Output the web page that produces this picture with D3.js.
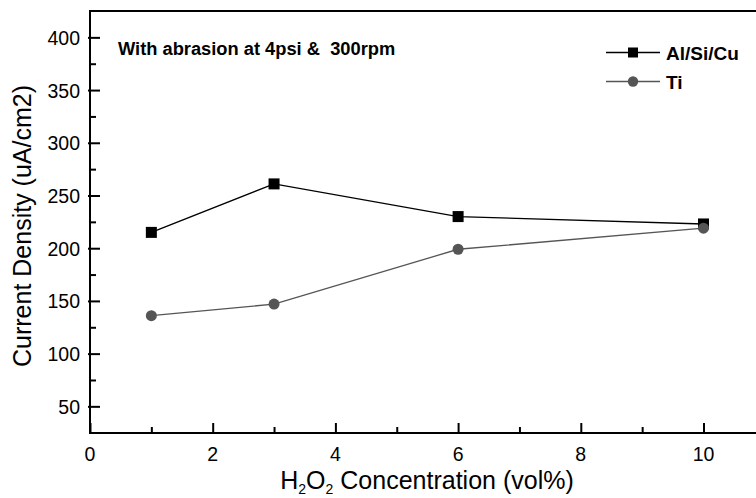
<!DOCTYPE html>
<html>
<head>
<meta charset="utf-8">
<script src="https://cdn.jsdelivr.net/npm/d3@7"></script>
<style>
  body { margin: 0; background: #fff; }
  svg { display: block; overflow: hidden; }
  text { font-family: "Liberation Sans", Arial, sans-serif; fill: #000; }
  .tick-label { font-size: 19.5px; }
  .axis-title { font-size: 25px; }
  .note { font-size: 18.3px; font-weight: bold; }
  .legend-label { font-size: 19px; font-weight: bold; }
</style>
</head>
<body>
<div id="chart"></div>
<script>
// Chart data
const concentrations = [1, 3, 6, 10];
const alSiCuValues = [215, 261, 230, 223];
const tiValues = [136, 147, 199, 219];
const xTickValues = [0, 2, 4, 6, 8, 10];
const xMinorTicks = [1, 3, 5, 7, 9];
const yTickValues = [50, 100, 150, 200, 250, 300, 350, 400];
const yMinorTicks = [75, 125, 175, 225, 275, 325, 375];
const seriesNames = ["Al/Si/Cu", "Ti"];

const width = 756, height = 498;
const margin = { top: 11, left: 90, bottom: 65 };
const plotBottom = height - margin.bottom;

const svg = d3.select("#chart")
    .append("svg")
    .attr("width", width)
    .attr("height", height);

// Scales (right edge of the frame runs past the window)
const xScale = d3.scaleLinear()
    .domain([0, 11])
    .range([margin.left, margin.left + 11 * 61.35]);

const yScale = d3.scaleLinear()
    .domain([25, 425])
    .range([plotBottom - 0.3, margin.top]);

// Top frame line
svg.append("line")
    .attr("x1", margin.left).attr("x2", xScale(11))
    .attr("y1", margin.top).attr("y2", margin.top)
    .attr("stroke", "#000").attr("stroke-width", 2);

// Y axis, ticks pointing inward
const yAxis = svg.append("g")
    .attr("transform", `translate(${margin.left},0)`)
    .call(d3.axisRight(yScale).tickValues(yTickValues).tickSize(10).tickFormat(""));
yAxis.select(".domain").remove();
yAxis.selectAll(".tick line").attr("stroke-width", 2).attr("x1", -2);

svg.append("g")
    .attr("transform", `translate(${margin.left},0)`)
    .call(d3.axisRight(yScale).tickValues(yMinorTicks).tickSize(6).tickFormat(""))
    .call(g => g.select(".domain").remove())
    .selectAll(".tick line").attr("stroke-width", 2);

svg.selectAll(".y-label")
    .data(yTickValues)
    .join("text")
    .attr("class", "tick-label y-label")
    .attr("x", margin.left - 10)
    .attr("y", d => yScale(d) + 7.5)
    .attr("text-anchor", "end")
    .text(d => d);

svg.append("line")
    .attr("x1", margin.left).attr("x2", margin.left)
    .attr("y1", margin.top - 1).attr("y2", plotBottom + 1)
    .attr("stroke", "#000").attr("stroke-width", 2);

// X axis, ticks pointing inward
const xAxis = svg.append("g")
    .attr("transform", `translate(0,${plotBottom})`)
    .call(d3.axisTop(xScale).tickValues(xTickValues).tickSize(10).tickFormat(""));
xAxis.select(".domain").remove();
xAxis.selectAll(".tick line").attr("stroke-width", 2);

svg.append("g")
    .attr("transform", `translate(0,${plotBottom})`)
    .call(d3.axisTop(xScale).tickValues(xMinorTicks).tickSize(6).tickFormat(""))
    .call(g => g.select(".domain").remove())
    .selectAll(".tick line").attr("stroke-width", 2);

svg.selectAll(".x-label")
    .data(xTickValues)
    .join("text")
    .attr("class", "tick-label x-label")
    .attr("x", d => xScale(d))
    .attr("y", plotBottom + 27.5)
    .attr("text-anchor", "middle")
    .text(d => d);

svg.append("line")
    .attr("x1", margin.left - 1).attr("x2", xScale(11))
    .attr("y1", plotBottom).attr("y2", plotBottom)
    .attr("stroke", "#000").attr("stroke-width", 2);

// Axis titles
const xTitle = svg.append("text")
    .attr("class", "axis-title")
    .attr("x", 427)
    .attr("y", 489)
    .attr("text-anchor", "middle");
xTitle.append("tspan").text("H");
xTitle.append("tspan").attr("font-size", 14).attr("dy", 5).text("2");
xTitle.append("tspan").attr("dy", -5).text("O");
xTitle.append("tspan").attr("font-size", 14).attr("dy", 5).text("2");
xTitle.append("tspan").attr("dy", -5).text(" Concentration (vol%)");

svg.append("text")
    .attr("class", "axis-title")
    .attr("transform", "translate(31,226) rotate(-90)")
    .attr("text-anchor", "middle")
    .text("Current Density (uA/cm2)");

// Annotation
svg.append("text")
    .attr("class", "note")
    .attr("x", 118)
    .attr("y", 55)
    .attr("xml:space", "preserve")
    .text("With abrasion at 4psi &  300rpm");

// Series
const series = [
    { name: seriesNames[0], values: alSiCuValues, color: "#000", width: 1.4, shape: "square" },
    { name: seriesNames[1], values: tiValues, color: "#555", width: 1.3, shape: "circle" }
];

const line = d3.line()
    .x((d, i) => xScale(concentrations[i]))
    .y(d => yScale(d));

series.forEach(s => {
    svg.append("path")
        .datum(s.values)
        .attr("fill", "none")
        .attr("stroke", s.color)
        .attr("stroke-width", s.width)
        .attr("d", line);
});

// Markers: Ti after Al/Si/Cu so the circle at 10 sits on top of the square
series.forEach(s => {
    const g = svg.append("g");
    if (s.shape === "square") {
        g.selectAll("rect")
            .data(s.values)
            .join("rect")
            .attr("x", (d, i) => xScale(concentrations[i]) - 5.5)
            .attr("y", d => yScale(d) - 5.5)
            .attr("width", 11)
            .attr("height", 11)
            .attr("fill", s.color);
    } else {
        g.selectAll("circle")
            .data(s.values)
            .join("circle")
            .attr("cx", (d, i) => xScale(concentrations[i]))
            .attr("cy", d => yScale(d))
            .attr("r", 5.5)
            .attr("fill", s.color);
    }
});

// Legend
const legend = svg.append("g");
series.forEach((s, i) => {
    const y = 52.5 + i * 29;
    legend.append("line")
        .attr("x1", 606).attr("x2", 660)
        .attr("y1", y).attr("y2", y)
        .attr("stroke", s.color).attr("stroke-width", s.width);
    if (s.shape === "square") {
        legend.append("rect")
            .attr("x", 633 - 5).attr("y", y - 5)
            .attr("width", 10).attr("height", 10)
            .attr("fill", s.color);
    } else {
        legend.append("circle")
            .attr("cx", 633).attr("cy", y)
            .attr("r", 5.2)
            .attr("fill", s.color);
    }
    legend.append("text")
        .attr("class", "legend-label")
        .attr("x", 666)
        .attr("y", y + 7)
        .text(s.name);
});
</script>
</body>
</html>
